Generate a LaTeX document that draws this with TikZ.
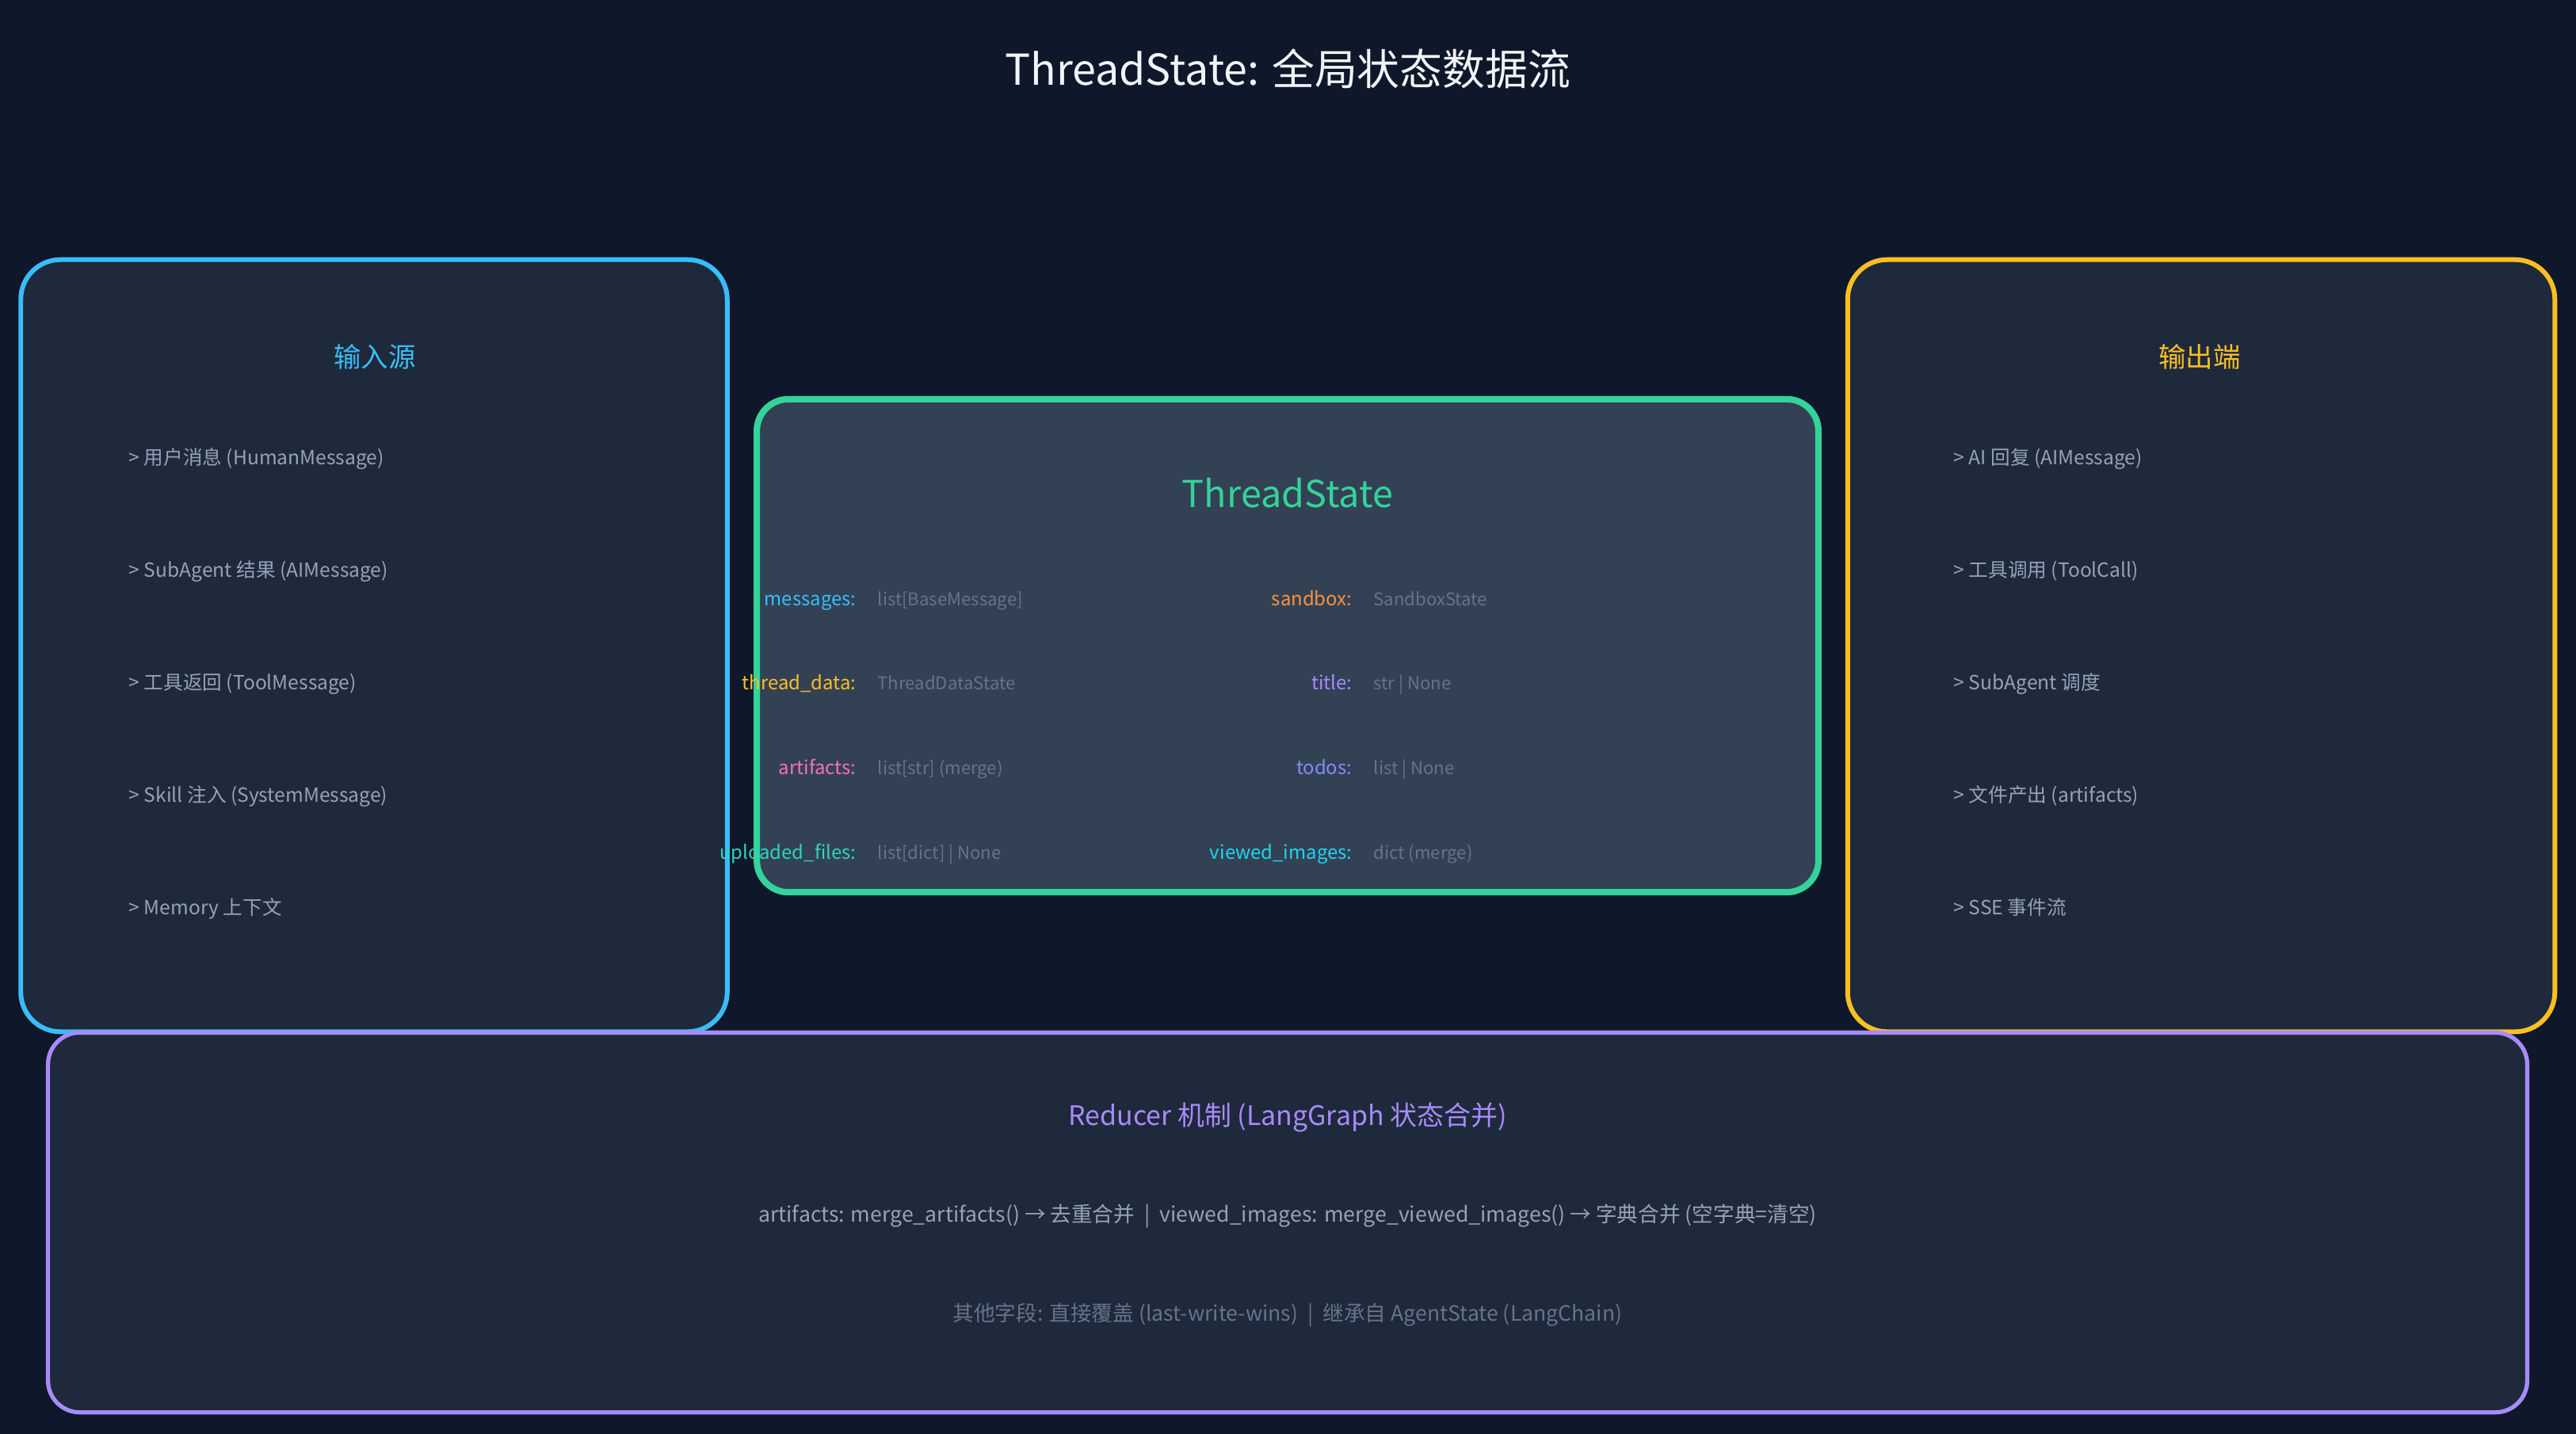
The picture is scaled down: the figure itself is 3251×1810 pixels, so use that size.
\documentclass[tikz,border=0pt]{standalone}
\usepackage{fontspec}
\setmainfont{Noto Sans CJK SC}
\definecolor{bgc}{HTML}{0F172A}
\definecolor{panelc}{HTML}{1E293B}
\definecolor{corec}{HTML}{334155}
\definecolor{cblue}{HTML}{38BDF8}
\definecolor{cyellow}{HTML}{FBBF24}
\definecolor{cgreen}{HTML}{34D399}
\definecolor{cpurple}{HTML}{A78BFA}
\definecolor{cpink}{HTML}{F472B6}
\definecolor{cteal}{HTML}{2DD4BF}
\definecolor{corange}{HTML}{FB923C}
\definecolor{cindigo}{HTML}{818CF8}
\definecolor{ccyan}{HTML}{22D3EE}
\definecolor{citem}{HTML}{94A3B8}
\definecolor{cval}{HTML}{64748B}
\definecolor{ctitle}{HTML}{F1F5F9}
\newcommand{\fsTitle}{\fontsize{15.3pt}{18pt}\selectfont}
\newcommand{\fsHead}{\fontsize{9.8pt}{12pt}\selectfont}
\newcommand{\fsCore}{\fontsize{13.3pt}{16pt}\selectfont}
\newcommand{\fsItem}{\fontsize{7.0pt}{9pt}\selectfont}
\newcommand{\fsKey}{\fontsize{6.8pt}{8pt}\selectfont}
\newcommand{\fsVal}{\fontsize{6.3pt}{7pt}\selectfont}
\newcommand{\fsRed}{\fontsize{9.65pt}{12pt}\selectfont}
\newcommand{\fsLine}{\fontsize{7.58pt}{10pt}\selectfont}
\begin{document}
\begin{tikzpicture}[x=0.01cm,y=-0.01cm,
  panel/.style={rounded corners=0.5cm, fill=panelc, line width=1.7pt, inner sep=0pt},
  corebox/.style={rounded corners=0.4cm, fill=corec, draw=cgreen, line width=2.3pt, inner sep=0pt},
  redbox/.style={rounded corners=0.4cm, fill=panelc, draw=cpurple, line width=1.5pt, inner sep=0pt},
  item/.style={anchor=mid west, inner sep=0pt, text=citem, font=\fsItem},
  head/.style={inner sep=0pt, font=\fsHead},
  key/.style={anchor=mid east, inner sep=0pt, font=\fsKey},
  val/.style={anchor=mid west, inner sep=0pt, text=cval, font=\fsVal}]
\fill[bgc] (0,0) rectangle (3251,1810);
\useasboundingbox (0,0) rectangle (3251,1810);
\node[inner sep=0pt, text=ctitle, font=\fsTitle] (title) at (1625,87) {ThreadState: 全局状态数据流};
% input panel
\node[panel, draw=cblue, minimum width=8.91cm, minimum height=9.74cm] (inbox) at (472,815) {};
\node[head, text=cblue] (inhead) at (473,450) {输入源};
\node[item] (in1) at (162,577) {> 用户消息 (HumanMessage)};
\node[item] (in2) at (162,719) {> SubAgent 结果 (AIMessage)};
\node[item] (in3) at (162,861) {> 工具返回 (ToolMessage)};
\node[item] (in4) at (162,1003) {> Skill 注入 (SystemMessage)};
\node[item] (in5) at (162,1145) {> Memory 上下文};
% output panel
\node[panel, draw=cyellow, minimum width=8.92cm, minimum height=9.74cm] (outbox) at (2778,815) {};
\node[head, text=cyellow] (outhead) at (2776,450) {输出端};
\node[item] (out1) at (2465,577) {> AI 回复 (AIMessage)};
\node[item] (out2) at (2465,719) {> 工具调用 (ToolCall)};
\node[item] (out3) at (2465,861) {> SubAgent 调度};
\node[item] (out4) at (2465,1003) {> 文件产出 (artifacts)};
\node[item] (out5) at (2465,1145) {> SSE 事件流};
% core
\node[corebox, minimum width=13.39cm, minimum height=6.22cm] (core) at (1625,815) {};
\node[inner sep=0pt, text=cgreen, font=\fsCore] (corehead) at (1625,622) {ThreadState};
\node[key, text=cblue] (k1) at (1081,755) {messages:};
\node[val] (v1) at (1107,755) {list[BaseMessage]};
\node[key, text=cyellow] (k2) at (1081,861) {thread\_data:};
\node[val] (v2) at (1107,861) {ThreadDataState};
\node[key, text=cpink] (k3) at (1081,968) {artifacts:};
\node[val] (v3) at (1107,968) {list[str] (merge)};
\node[key, text=cteal] (k4) at (1081,1075) {uploaded\_files:};
\node[val] (v4) at (1107,1075) {list[dict] | None};
\node[key, text=corange] (k5) at (1707,755) {sandbox:};
\node[val] (v5) at (1733,755) {SandboxState};
\node[key, text=cpurple] (k6) at (1707,861) {title:};
\node[val] (v6) at (1733,861) {str | None};
\node[key, text=cindigo] (k7) at (1707,968) {todos:};
\node[val] (v7) at (1733,968) {list | None};
\node[key, text=ccyan] (k8) at (1707,1075) {viewed\_images:};
\node[val] (v8) at (1733,1075) {dict (merge)};
% reducer
\node[redbox, minimum width=31.27cm, minimum height=4.79cm] (red) at (1625,1543) {};
\node[inner sep=0pt, text=cpurple, font=\fsRed] (redhead) at (1625,1410) {Reducer 机制 (LangGraph 状态合并)};
\node[inner sep=0pt, text=citem, font=\fsLine] (red1) at (1625,1535) {artifacts: merge\_artifacts() → 去重合并 \ | \ viewed\_images: merge\_viewed\_images() → 字典合并 (空字典=清空)};
\node[inner sep=0pt, text=cval, font=\fsLine] (red2) at (1625,1660) {其他字段: 直接覆盖 (last-write-wins) \ | \ 继承自 AgentState (LangChain)};
\end{tikzpicture}
\end{document}
